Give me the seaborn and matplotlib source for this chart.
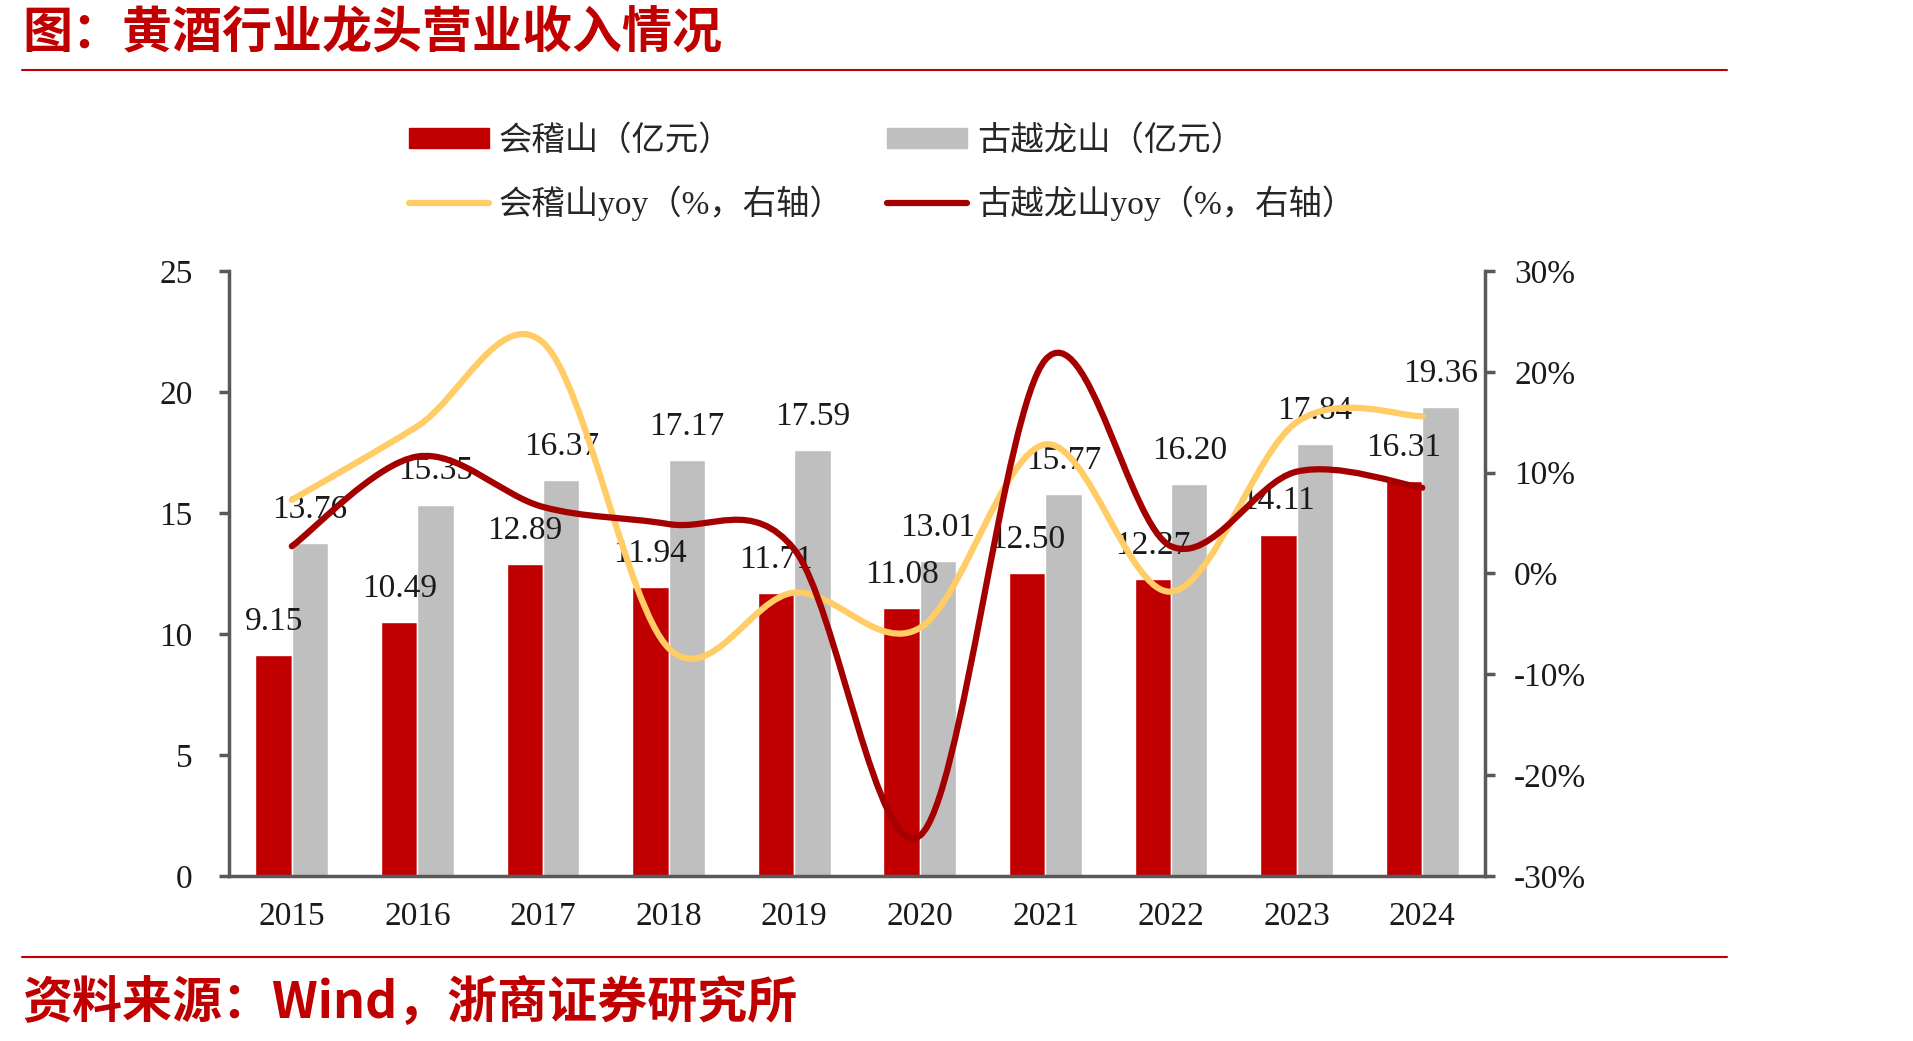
import numpy as np
import pandas as pd
import matplotlib
matplotlib.use('Agg')
import matplotlib.pyplot as plt
import seaborn as sns
from matplotlib.path import Path
from matplotlib.patches import PathPatch
from matplotlib.lines import Line2D
from matplotlib.ticker import FuncFormatter, MultipleLocator

# --- 数据 ---
years = ['2015', '2016', '2017', '2018', '2019', '2020', '2021', '2022', '2023', '2024']
kjs_rev = [9.15, 10.49, 12.89, 11.94, 11.71, 11.08, 12.50, 12.27, 14.11, 16.31]      # 会稽山（亿元）
gylh_rev = [13.76, 15.35, 16.37, 17.17, 17.59, 13.01, 15.77, 16.20, 17.84, 19.36]    # 古越龙山（亿元）
kjs_yoy = [7.3, 14.6, 22.9, -7.4, -1.9, -5.4, 12.8, -1.8, 15.0, 15.6]                # 会稽山yoy (%)
gylh_yoy = [2.7, 11.6, 6.6, 4.9, 2.4, -26.0, 21.2, 2.7, 10.1, 8.5]                   # 古越龙山yoy (%)

bar_names = ['会稽山（亿元）', '古越龙山（亿元）']
line_names = ['会稽山yoy（%，右轴）', '古越龙山yoy（%，右轴）']

RED = '#C00000'
GREY = '#BFBFBF'
YELLOW = '#FFCC66'
DARKRED = '#A50000'
AXC = '#595959'
NUM_FONT = ['Liberation Serif', 'Noto Sans CJK SC']
CJK_BOLD = ['Noto Sans CJK SC', 'DejaVu Sans']

sns.set_style('white')
plt.rcParams['font.family'] = NUM_FONT
plt.rcParams['axes.unicode_minus'] = False

df = pd.DataFrame({
    '年份': years * 2,
    '收入': kjs_rev + gylh_rev,
    '公司': [bar_names[0]] * len(years) + [bar_names[1]] * len(years),
})

fig = plt.figure(figsize=(19.13, 10.41), dpi=100)
ax = fig.add_axes([0.1197, 0.1585, 0.6566, 0.5812])

sns.barplot(data=df, x='年份', y='收入', hue='公司', palette=[RED, GREY],
            width=0.58, saturation=1, ax=ax, legend=False)
ax.set_xlabel('')
ax.set_ylabel('')
ax.set_xlim(-0.5, len(years) - 0.5)
ax.set_ylim(0, 25)
ax.yaxis.set_major_locator(MultipleLocator(5))

# 数据标签
for i in range(len(years)):
    ax.annotate(f'{kjs_rev[i]:.2f}', (i - 0.145, kjs_rev[i]), xytext=(0, 13), textcoords='offset points',
                ha='center', va='bottom', fontsize=24, color='#1a1a1a', zorder=5)
    ax.annotate(f'{gylh_rev[i]:.2f}', (i + 0.145, gylh_rev[i]), xytext=(0, 13), textcoords='offset points',
                ha='center', va='bottom', fontsize=24, color='#1a1a1a', zorder=5)

# 坐标轴样式
for side in ['top', 'right']:
    ax.spines[side].set_visible(False)
for side in ['left', 'bottom']:
    ax.spines[side].set_color(AXC)
    ax.spines[side].set_linewidth(2.5)
ax.tick_params(axis='y', direction='out', length=7, width=2.5, color=AXC, labelsize=24, pad=19, labelcolor='#1a1a1a')
ax.tick_params(axis='x', which='major', length=0, labelsize=24, pad=18, labelcolor='#1a1a1a')
ax.set_xticks(np.arange(-0.5, len(years), 1.0), minor=True)
ax.tick_params(axis='x', which='minor', direction='out', length=7, width=2, color=AXC)

# 右轴：平滑折线 (Excel 风格)
ax2 = ax.twinx()
ax2.set_ylim(-30, 30)
ax2.yaxis.set_major_locator(MultipleLocator(10))
ax2.yaxis.set_major_formatter(FuncFormatter(lambda v, p: f'{v:.0f}%'))
for side in ['top', 'left', 'bottom']:
    ax2.spines[side].set_visible(False)
ax2.spines['right'].set_color(AXC)
ax2.spines['right'].set_linewidth(2.5)
ax2.tick_params(axis='y', direction='out', length=7, width=2.5, color=AXC, labelsize=24, pad=14, labelcolor='#1a1a1a')


def smooth_path(xs, ys, t=1 / 6):
    pts = np.column_stack([xs, ys]).astype(float)
    n = len(pts)
    verts = [pts[0]]
    codes = [Path.MOVETO]
    for i in range(n - 1):
        p0 = pts[i - 1] if i > 0 else pts[i]
        p1 = pts[i]
        p2 = pts[i + 1]
        p3 = pts[i + 2] if i + 2 < n else pts[i + 1]
        c1 = p1 + (p2 - p0) * t
        c2 = p2 - (p3 - p1) * t
        verts += [c1, c2, p2]
        codes += [Path.CURVE4] * 3
    return Path(verts, codes)


xs = np.arange(len(years))
for vals, col in [(kjs_yoy, YELLOW), (gylh_yoy, DARKRED)]:
    patch = PathPatch(smooth_path(xs, vals), facecolor='none', edgecolor=col, lw=4.5,
                      capstyle='round', joinstyle='round', zorder=3)
    ax2.add_patch(patch)

# 图例
handles = [
    plt.Rectangle((0, 0), 1, 1, color=RED),
    Line2D([], [], color=YELLOW, lw=4.5),
    plt.Rectangle((0, 0), 1, 1, color=GREY),
    Line2D([], [], color=DARKRED, lw=4.5),
]
labels = [bar_names[0], line_names[0], bar_names[1], line_names[1]]
fig.legend(handles, labels, ncol=2, loc='upper left', bbox_to_anchor=(0.2137, 0.880),
           frameon=False, borderpad=0, borderaxespad=0, handlelength=2.4, handleheight=0.55,
           handletextpad=0.3, columnspacing=1.3, labelspacing=0.85,
           prop={'family': NUM_FONT, 'size': 24})

# 标题、来源及分隔线
fig.text(0.0115, 0.968, '图：黄酒行业龙头营业收入情况', color=RED, fontsize=36, fontweight='bold',
         family=CJK_BOLD, va='center', ha='left')
fig.text(0.0115, 0.036, '资料来源：Wind，浙商证券研究所', color=RED, fontsize=36, fontweight='bold',
         family=CJK_BOLD, va='center', ha='left')
fig.add_artist(Line2D([0.0115, 0.903], [0.933, 0.933], color=RED, lw=1.5, transform=fig.transFigure))
fig.add_artist(Line2D([0.0115, 0.903], [0.081, 0.081], color=RED, lw=1.5, transform=fig.transFigure))

fig.savefig('out.png', dpi=100)
